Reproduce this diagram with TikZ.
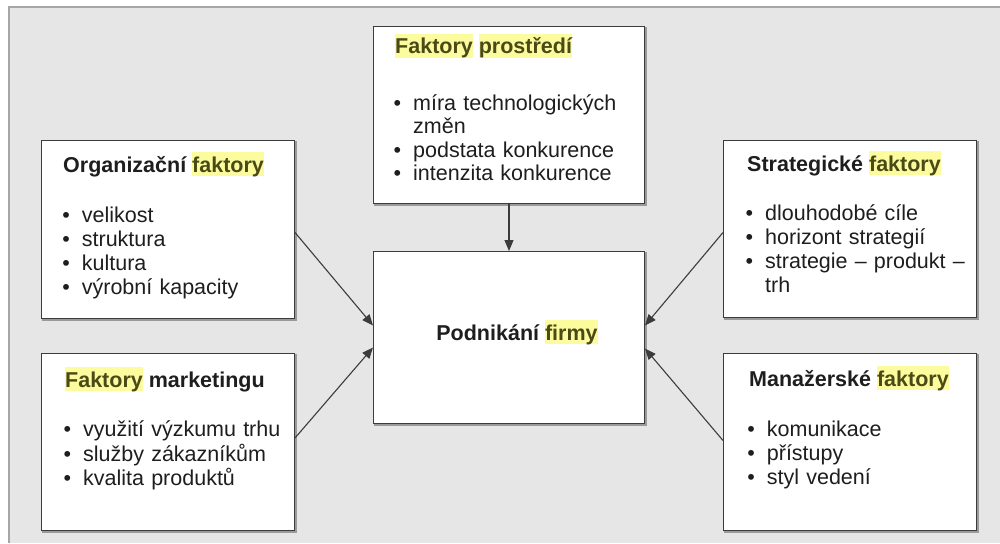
\documentclass[tikz,border=0pt]{standalone}
\usepackage{fontspec}
\setmainfont{Liberation Sans}
\usetikzlibrary{arrows.meta}

\definecolor{panel}{HTML}{E6E6E6}
\definecolor{panelrule}{HTML}{A6A6A6}
\definecolor{hly}{HTML}{FCFC9E}
\definecolor{hltext}{HTML}{4A4A16}
\definecolor{ink}{HTML}{1E1E1E}
\definecolor{edge}{HTML}{3C3C3C}
\definecolor{shade}{HTML}{9A9A9A}

% yellow marker behind a word
\newcommand\hilite[1]{{\setlength{\fboxsep}{0pt}\colorbox{hly}{\rule[-3pt]{0pt}{23pt}\textcolor{hltext}{#1}}}}
% bullet with fixed indent
\newcommand\itm{\makebox[18.5pt][l]{\hspace{-1pt}\textbullet}}
\newcommand\cont{\hspace*{18.5pt}}

\begin{document}
\begin{tikzpicture}[x=1pt,y=-1pt,
  factorbox/.style={rectangle, anchor=north west, inner sep=0pt,
    draw=edge, line width=1pt, fill=white,
    preaction={draw=shade, line width=1.4pt, transform canvas={shift={(1.3pt,-1.3pt)}}}},
  heading/.style={anchor=base west, inner sep=0pt, text=ink,
    font=\fontsize{21.5}{24.2}\selectfont\bfseries},
  items/.style={anchor=north west, inner sep=0pt, text=ink, align=left,
    text width=240pt, font=\fontsize{21.5}{24.2}\selectfont},
  link/.style={draw=edge, line width=1.1pt,
    -{Triangle[length=11pt,width=9pt]}}]

% canvas and grey panel
\useasboundingbox (0,0) rectangle (1000,543);
\fill[white] (0,0) rectangle (1000,543);
\fill[panel] (9,7) rectangle (1000,543);
\draw[panelrule, line width=1.6pt] (9,543) -- (9,7) -- (1000,7);

% factor boxes
\node[factorbox, minimum width=253pt, minimum height=178pt] (org) at (41,140) {};
\node[factorbox, minimum width=271pt, minimum height=177pt] (env) at (373,26) {};
\node[factorbox, minimum width=271pt, minimum height=172pt] (core) at (373,251) {};
\node[factorbox, minimum width=253pt, minimum height=177pt] (strat) at (723,140) {};
\node[factorbox, minimum width=253pt, minimum height=177pt] (mkt) at (41,353) {};
\node[factorbox, minimum width=253pt, minimum height=177pt] (mgr) at (723,353) {};

% texts
\node[heading] (orgH) at (63,172) {Organizační \hilite{faktory}};
\node[items] (orgL) at (63.2,204) {\rule{0pt}{18pt}\itm velikost\\ \itm struktura\\ \itm kultura\\ \itm výrobní kapacity};

\node[heading] (envH) at (395,54) {\hilite{Faktory} \hilite{prostředí}};
\node[items, font=\fontsize{21.5}{23.4}\selectfont] (envL) at (394.5,92) {\rule{0pt}{18pt}\itm míra technologických\\ \cont změn\\ \itm podstata konkurence\\ \itm intenzita konkurence};

\node[heading, anchor=base] (coreH) at (517,340) {Podnikání \hilite{firmy}};

\node[heading] (stratH) at (747,171) {Strategické \hilite{faktory}};
\node[items] (stratL) at (746.5,202) {\rule{0pt}{18pt}\itm dlouhodobé cíle\\ \itm horizont strategií\\ \itm strategie – produkt –\\ \cont trh};

\node[heading] (mktH) at (65,387) {\hilite{Faktory} marketingu};
\node[items] (mktL) at (64.5,418.7) {\rule{0pt}{18pt}\itm využití výzkumu trhu\\ \itm služby zákazníkům\\ \itm kvalita produktů};

\node[heading] (mgrH) at (749,386) {Manažerské \hilite{faktory}};
\node[items] (mgrL) at (748.2,418) {\rule{0pt}{18pt}\itm komunikace\\ \itm přístupy\\ \itm styl vedení};

% influences on the core box
\draw[link] (env.south) -- (core.north);
\draw[link] ([yshift=-3pt]org.east) -- ([yshift=12pt]core.west);
\draw[link] ([yshift=4pt]mkt.east) -- ([yshift=-10pt]core.west);
\draw[link] ([yshift=-3.5pt]strat.west) -- ([yshift=12pt]core.east);
\draw[link] ([yshift=1.5pt]mgr.west) -- ([yshift=-11pt]core.east);
\end{tikzpicture}
\end{document}
